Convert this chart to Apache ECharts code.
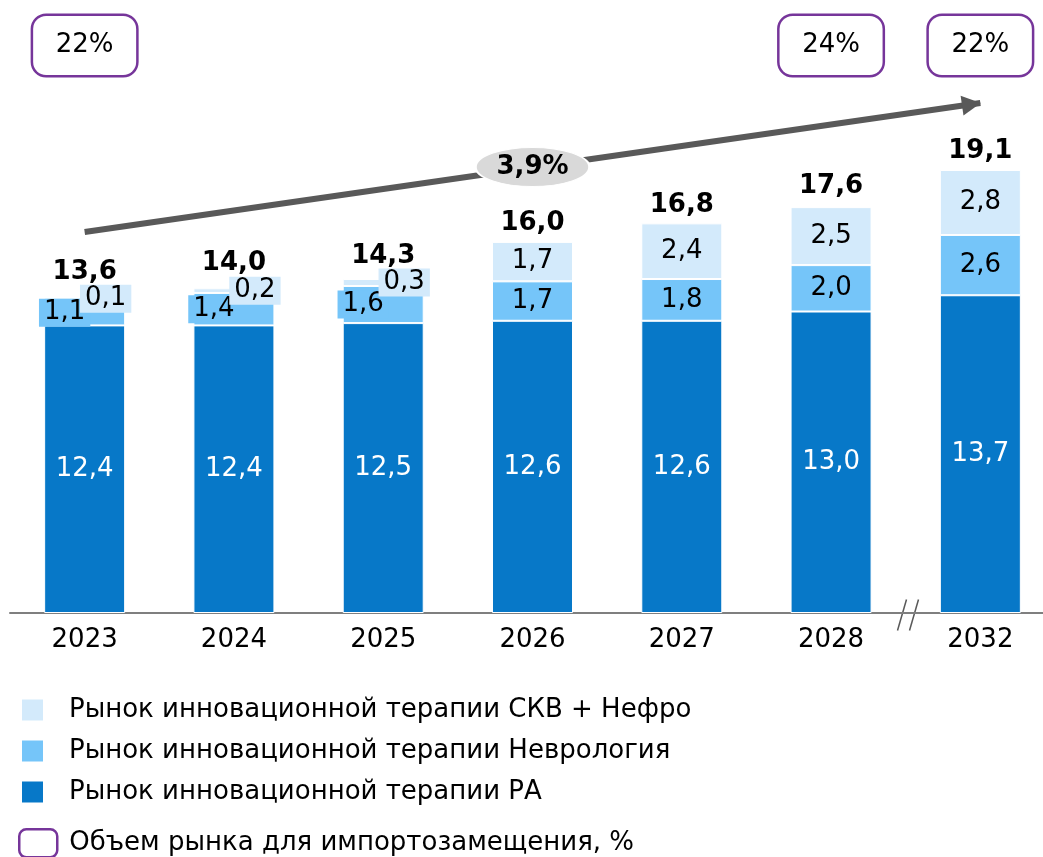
<!DOCTYPE html>
<html><head><meta charset="utf-8">
<script src="https://cdn.jsdelivr.net/npm/echarts@6/dist/echarts.min.js"></script>
<style>html,body{margin:0;padding:0;background:#fff;overflow:hidden}#c{width:1056px;height:857px}</style>
</head><body><div id="c"></div>
<script>
const years = ['2023','2024','2025','2026','2027','2028','2032'];
const raValues = [12.4, 12.4, 12.5, 12.6, 12.6, 13.0, 13.7];
const neuroValues = [1.1, 1.4, 1.6, 1.7, 1.8, 2.0, 2.6];
const skvValues = [0.1, 0.2, 0.3, 1.7, 2.4, 2.5, 2.8];
const totals = [13.6, 14.0, 14.3, 16.0, 16.8, 17.6, 19.1];
const importShare = [22, null, null, null, null, 24, 22];
const cagrText = '3,9%';
const arrowStart = 16.43, arrowEnd = 21.99;
const names = {
  skv: 'Рынок инновационной терапии СКВ + Нефро',
  neuro: 'Рынок инновационной терапии Неврология',
  ra: 'Рынок инновационной терапии РА',
  imp: 'Объем рынка для импортозамещения, %'
};

const FONT = '"DejaVu Sans", Verdana, sans-serif';
const C_RA = '#0778C8', C_NEURO = '#75C5F9', C_SKV = '#D3EAFB', PURPLE = '#76359A';
const fmt = v => Number(v).toFixed(1).replace('.', ',');
const SMALL = 0.5; // when the top segment is this small, labels are shown as offset boxes

const neuroData = neuroValues.map((v, i) => skvValues[i] <= SMALL
  ? {value: v, label: {offset: [-20, 0], backgroundColor: C_NEURO, padding: [1, 5]}}
  : {value: v});
const skvData = skvValues.map((v, i) => v <= SMALL
  ? {value: v, label: {offset: [21, 0], backgroundColor: C_SKV, padding: [1, 5]}}
  : {value: v});

const BOX_Y = 24.47, CAGR_Y = 19.23;

const chart = echarts.init(document.getElementById('c'), null, {renderer: 'canvas'});
chart.setOption({
  animation: false,
  textStyle: {fontFamily: FONT},
  grid: {left: 10, right: 1, top: 10, bottom: 244, containLabel: false},
  xAxis: {
    type: 'category', data: years,
    axisTick: {show: false},
    axisLine: {lineStyle: {color: '#7f7f7f', width: 2}},
    axisLabel: {fontSize: 26, color: '#000', margin: 14, fontFamily: FONT}
  },
  yAxis: {type: 'value', min: 0, max: 26, show: false, splitLine: {show: false}},
  legend: [{
    orient: 'vertical', left: 20, top: 697, padding: 0, itemWidth: 23, itemHeight: 23, itemGap: 15,
    icon: 'rect', selectedMode: false,
    data: [names.skv, names.neuro, names.ra],
    textStyle: {fontSize: 26, lineHeight: 23, color: '#000', fontFamily: FONT, padding: [0, 0, 0, 20]}
  }, {
    orient: 'vertical', left: 18, top: 828, padding: 0, itemWidth: 38, itemHeight: 28,
    icon: 'roundRect', selectedMode: false,
    data: [{name: names.imp, itemStyle: {color: '#fff', borderColor: PURPLE, borderWidth: 2.5}}],
    textStyle: {fontSize: 26, lineHeight: 28, color: '#000', fontFamily: FONT, padding: [0, 0, 0, 7]}
  }],
  series: [{
    name: names.ra, type: 'bar', stack: 'm', barWidth: 81,
    data: raValues,
    itemStyle: {color: C_RA, borderColor: '#fff', borderWidth: 1},
    label: {show: true, position: 'inside', color: '#fff', fontSize: 26, fontFamily: FONT, formatter: p => fmt(p.value)},
    emphasis: {disabled: true}
  }, {
    name: names.neuro, type: 'bar', stack: 'm', barWidth: 81,
    data: neuroData,
    itemStyle: {color: C_NEURO, borderColor: '#fff', borderWidth: 1},
    label: {show: true, position: 'inside', color: '#000', fontSize: 26, fontFamily: FONT, formatter: p => fmt(p.value)},
    emphasis: {disabled: true}
  }, {
    name: names.skv, type: 'bar', stack: 'm', barWidth: 81,
    data: skvData,
    itemStyle: {color: C_SKV, borderColor: '#fff', borderWidth: 1},
    label: {show: true, position: 'inside', color: '#000', fontSize: 26, fontFamily: FONT, formatter: p => fmt(p.value)},
    emphasis: {disabled: true}
  }, {
    name: 'totals', type: 'scatter', symbolSize: 1,
    itemStyle: {color: 'transparent', opacity: 1},
    data: totals.map((v, i) => ({value: [i, v], label: {distance: skvValues[i] <= SMALL ? 12 : 5}})),
    label: {show: true, position: 'top', color: '#000', fontSize: 26, fontWeight: 'bold', fontFamily: FONT,
      formatter: p => fmt(p.value[1])},
    emphasis: {disabled: true},
    markLine: {
      silent: true, symbol: ['none', 'triangle'], symbolSize: [20, 19], symbolOffset: [[0, 0], [0, 9]],
      lineStyle: {color: '#595959', width: 6, type: 'solid', opacity: 1},
      label: {show: false},
      data: [[{coord: [0, arrowStart]}, {coord: [6, arrowEnd]}]]
    },
    z: 3
  }, {
    name: 'cagr', type: 'scatter', symbol: 'circle', symbolSize: [114, 39],
    itemStyle: {color: '#D9D9D9', opacity: 1, borderColor: '#fff', borderWidth: 1.5},
    data: [[3, CAGR_Y]],
    label: {show: true, position: 'inside', formatter: cagrText, color: '#000', fontSize: 26, fontWeight: 'bold', fontFamily: FONT},
    emphasis: {disabled: true}, z: 5
  }, {
    name: names.imp, type: 'scatter', symbolSize: 1,
    itemStyle: {color: '#fff', opacity: 1, borderColor: PURPLE, borderWidth: 2},
    data: importShare.map((v, i) => v == null ? null : [i, BOX_Y, v]).filter(d => d),
    label: {show: true, position: 'inside', formatter: p => p.value[2] + '%', color: '#000', fontSize: 26, fontFamily: FONT,
      backgroundColor: '#fff', borderColor: PURPLE, borderWidth: 2.5, borderRadius: 13,
      width: 103, height: 59, lineHeight: 59, align: 'center', verticalAlign: 'middle'},
    emphasis: {disabled: true}, z: 5
  }],
  graphic: [{
    type: 'group', left: 895, top: 597, children: [
      {type: 'line', shape: {x1: 0, y1: 31, x2: 9, y2: 0}, style: {stroke: '#595959', lineWidth: 1.5}},
      {type: 'line', shape: {x1: 12, y1: 31, x2: 21, y2: 0}, style: {stroke: '#595959', lineWidth: 1.5}}
    ]
  }]
});
</script></body></html>
